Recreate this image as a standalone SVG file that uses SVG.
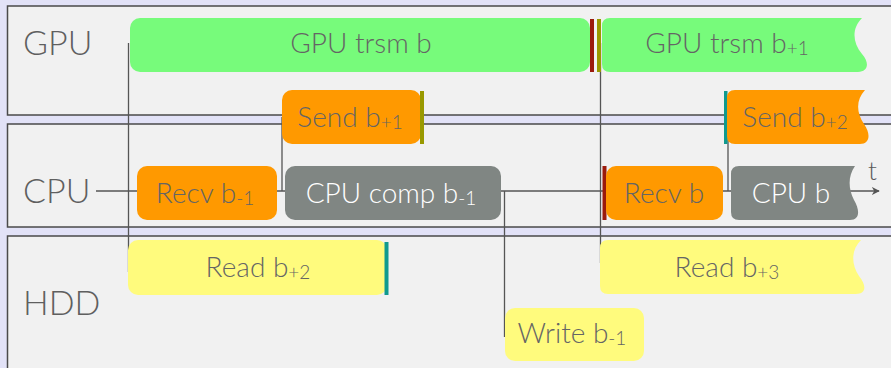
<svg xmlns="http://www.w3.org/2000/svg" width="891" height="368" viewBox="0 0 891 368">
<defs>
<marker id="arr" viewBox="0 0 10 10" refX="9" refY="5" markerWidth="8" markerHeight="8" markerUnits="userSpaceOnUse" orient="auto">
<path d="M0,0 L10,5 L0,10 L3,5 Z" fill="#555"/>
</marker>
<style>
.lane{fill:#f1f1f1;stroke:#4a4a4a;stroke-width:1.5}
.lbl{font-family:Lato,"Open Sans","Liberation Sans",sans-serif;font-weight:300;font-size:34px;fill:#5f5f5f}
.t{font-family:Lato,"Open Sans","Liberation Sans",sans-serif;font-weight:300;font-size:28px;fill:#656565;text-anchor:middle}
.w{fill:#ffffff}
.sub{font-size:19px}
.green{fill:#77fb7b}
.orange{fill:#ff9900}
.yellow{fill:#fffb7d}
.gray{fill:#808683}
.conn{stroke:#555;stroke-width:1.3;fill:none}
</style>
</defs>
<rect x="0" y="0" width="891" height="368" fill="#e2e2f7"/>
<g id="lanes">
<rect class="lane" x="7.5" y="6" width="900" height="109"/>
<rect class="lane" x="7.5" y="124" width="900" height="103"/>
<rect class="lane" x="7.5" y="236" width="900" height="150"/>
<text class="lbl" x="23" y="55">GPU</text>
<text class="lbl" x="23" y="203">CPU</text>
<text class="lbl" x="23" y="315">HDD</text>
</g>
<g id="connectors">
<line class="conn" x1="96" y1="191" x2="879" y2="191" marker-end="url(#arr)"/>
<line class="conn" x1="128.5" y1="43" x2="128.5" y2="272"/>
<line class="conn" x1="282" y1="117" x2="282" y2="191"/>
<line class="conn" x1="504.5" y1="191" x2="504.5" y2="337"/>
<line class="conn" x1="600.5" y1="43" x2="600.5" y2="263"/>
<line class="conn" x1="728" y1="117" x2="728" y2="191"/>
<text x="868" y="180" style="font-family:Lato,'Open Sans','Liberation Sans',sans-serif;font-weight:300;font-size:26px;fill:#5a5a5a">t</text>
</g>
<g id="gpu_trsm_b">
<rect class="green" x="130" y="18" width="460" height="54" rx="10"/>
<text class="t" x="361" y="53">GPU trsm b</text>
</g>
<g id="barriers_gpu">
<rect x="590" y="19" width="4" height="53" fill="#9b1a0c"/>
<rect x="597" y="19" width="4" height="53" fill="#999900"/>
</g>
<g id="gpu_trsm_b1">
<path class="green" d="M610,18 L862,18 C852,28 852,42 862,54 C870,63 868,72 858,72 L610,72 Q602,72 602,64 L602,26 Q602,18 610,18 Z"/>
<text class="t" x="727" y="53">GPU trsm b<tspan class="sub" dy="2">+1</tspan></text>
</g>
<g id="send_b1">
<rect class="orange" x="282" y="90" width="139" height="54" rx="10"/>
<rect x="420" y="91" width="4" height="53" fill="#999900"/>
<text class="t" x="350" y="127">Send b<tspan class="sub" dy="2">+1</tspan></text>
</g>
<g id="send_b2">
<rect x="724" y="91" width="3.5" height="53" fill="#109a8e"/>
<path class="orange" d="M735,90 L865,90 C856,100 856,112 864,124 C871,134 870,144 860,144 L735,144 Q727,144 727,136 L727,98 Q727,90 735,90 Z"/>
<text class="t" x="795" y="127">Send b<tspan class="sub" dy="2">+2</tspan></text>
</g>
<g id="recv_b_1">
<rect class="orange" x="137" y="166" width="140" height="54" rx="10"/>
<text class="t" x="205" y="203">Recv b<tspan class="sub" dy="2">-1</tspan></text>
</g>
<g id="cpu_comp_b_1">
<rect class="gray" x="285" y="166" width="216" height="54" rx="10"/>
<text class="t w" x="391" y="203">CPU comp b<tspan class="sub" dy="2">-1</tspan></text>
</g>
<g id="recv_b">
<rect x="602.5" y="166" width="4" height="54" fill="#9b1a0c"/>
<rect class="orange" x="606" y="166" width="117" height="54" rx="10"/>
<text class="t" x="664" y="203">Recv b</text>
</g>
<g id="cpu_b">
<path class="gray" d="M739,166 L855,166 C848,176 848,188 854,200 C860,210 860,220 850,220 L739,220 Q731,220 731,212 L731,174 Q731,166 739,166 Z"/>
<text class="t w" x="791" y="203">CPU b</text>
</g>
<g id="read_b2">
<rect class="yellow" x="128" y="240" width="259" height="55" rx="10"/>
<rect x="384.5" y="242" width="4" height="53" fill="#109a8e"/>
<text class="t" x="258" y="277">Read b<tspan class="sub" dy="2">+2</tspan></text>
</g>
<g id="read_b3">
<path class="yellow" d="M608,240 L861,240 C851,250 851,264 859,276 C867,286 866,294 856,294 L608,294 Q600,294 600,286 L600,248 Q600,240 608,240 Z"/>
<text class="t" x="727" y="277">Read b<tspan class="sub" dy="2">+3</tspan></text>
</g>
<g id="write_b_1">
<rect class="yellow" x="505" y="308" width="139" height="53" rx="10"/>
<text class="t" x="572" y="343">Write b<tspan class="sub" dy="2">-1</tspan></text>
</g>
</svg>
